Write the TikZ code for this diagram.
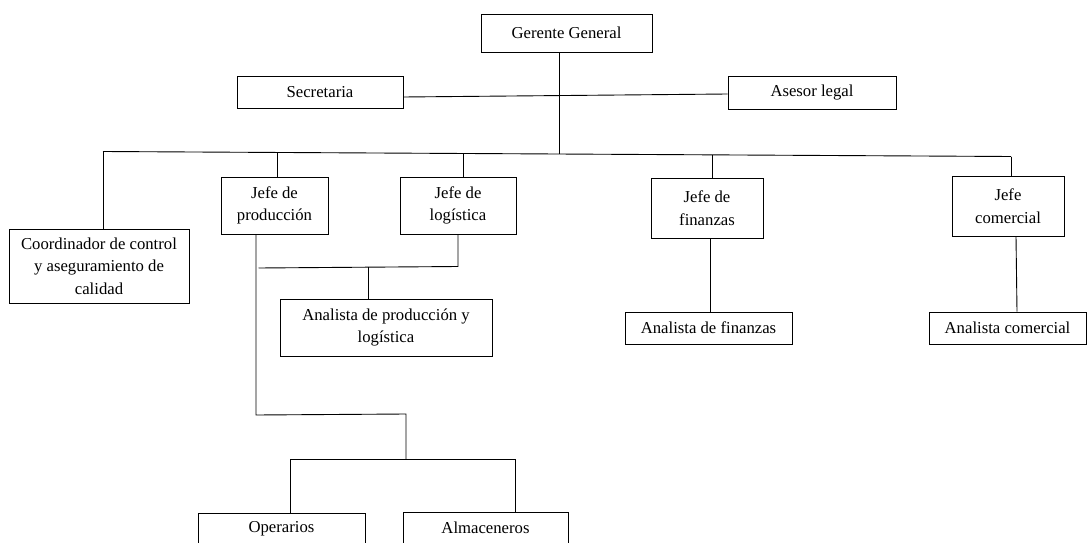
\documentclass[tikz,border=0pt]{standalone}
\usepackage{fontspec}
\setmainfont{Liberation Serif}
\begin{document}
\begin{tikzpicture}[x=1pt,y=-1pt,
  box/.style={draw=black, line width=0.9pt, align=center, inner sep=0pt,
              font=\fontsize{16.7}{22.5}\selectfont},
  link/.style={draw=black, line width=0.9pt}]
\useasboundingbox (0,0) rectangle (1087,543);
\clip (0,0) rectangle (1087,543);

% top management
\node[box, minimum width=171pt, minimum height=38pt] (gg)  at (566.5,33)  {Gerente General};
\node[box, minimum width=166pt, minimum height=32pt] (sec) at (320,92)    {Secretaria};
\node[box, minimum width=168pt, minimum height=33pt] (ase) at (812,92.5)  {Asesor legal};

% heads of area
\node[box, minimum width=180pt, minimum height=74pt] (coord) at (99,266)    {Coordinador de control\\y aseguramiento de\\calidad};
\node[box, minimum width=107pt, minimum height=57pt] (jp)    at (274.5,205.5) {Jefe de\\producción};
\node[box, minimum width=116pt, minimum height=57pt] (jl)    at (458,205.5)   {Jefe de\\logística};
\node[box, minimum width=112pt, minimum height=60pt] (jf)    at (707,208)     {Jefe de\\finanzas};
\node[box, minimum width=112pt, minimum height=60pt] (jc)    at (1008,206)    {Jefe\\comercial};

% analysts
\node[box, minimum width=212pt, minimum height=57pt] (apl) at (386,327.5)  {Analista de producción y\\logística};
\node[box, minimum width=167pt, minimum height=32pt] (af)  at (708.5,328)  {Analista de finanzas};
\node[box, minimum width=157pt, minimum height=32pt] (ac)  at (1007.5,328) {Analista comercial};

% operative staff
\node[box, minimum width=167pt, minimum height=32pt] (op)  at (281.5,529) {Operarios};
\node[box, minimum width=165pt, minimum height=32pt] (alm) at (485.5,528) {Almaceneros};

% junction points
\coordinate (busL) at (103,151.5);
\coordinate (busR) at (1011,156.5);
\coordinate (bP)   at (277,152.5);
\coordinate (bL)   at (463,153.5);
\coordinate (bG)   at (559,154);
\coordinate (bF)   at (712,154.9);
\coordinate (jLd)  at (458,266.5);
\coordinate (pJ)   at (258.5,268);
\coordinate (aJ)   at (368,267.3);
\coordinate (pD)   at (256,415);
\coordinate (oH)   at (406,414);
\coordinate (oJ)   at (406,459);
\coordinate (oL)   at (290,459);
\coordinate (oR)   at (515,459);

% general manager, staff and main bus
\draw[link] ([yshift=-5pt]sec.east) -- ([yshift=-1.5pt]ase.west);
\draw[link] (gg.south -| bG) -- (bG);
\draw[link] (busL) -- (busR);
\draw[link] (busL) -- (coord.north -| busL);
\draw[link] (bP) -- (jp.north -| bP);
\draw[link] (bL) -- (jl.north -| bL);
\draw[link] (bF) -- (jf.north -| bF);
\draw[link] (busR) -- (jc.north -| busR);

% finance and commercial
\draw[link] ([xshift=3pt]jf.south) -- ([xshift=1.5pt]af.north);
\draw[link] ([xshift=8pt]jc.south) -- ([xshift=9.5pt]ac.north);

% production and logistics
\draw[link] (jl.south) -- (jLd) -- (pJ);
\draw[link] (aJ) -- (apl.north -| aJ);
\draw[link] (jp.south -| pD) -- (pD) -- (oH) -- (oJ);
\draw[link] (oL) -- (oR);
\draw[link] (oL) -- (op.north -| oL);
\draw[link] (oR) -- (alm.north -| oR);
\end{tikzpicture}
\end{document}
